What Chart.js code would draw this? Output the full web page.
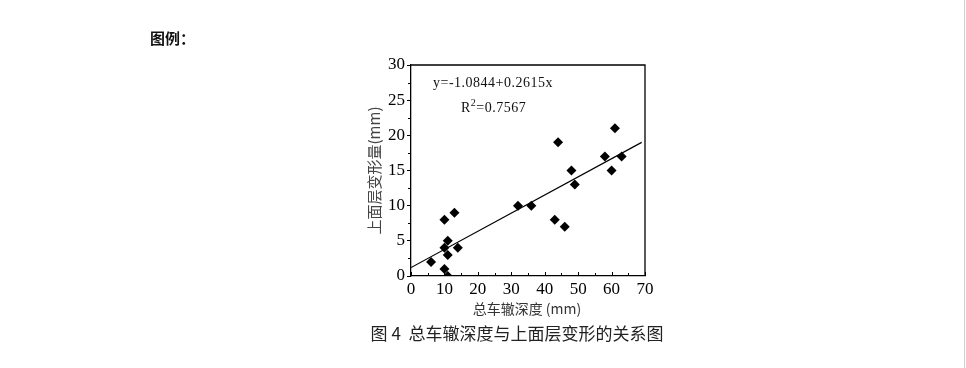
<!DOCTYPE html>
<html>
<head>
<meta charset="utf-8">
<script src="https://cdn.jsdelivr.net/npm/chart.js@4.4.1/dist/chart.umd.min.js"></script>
<style>
html,body{margin:0;padding:0;background:#fff;}
#wrap{position:relative;width:966px;height:368px;}
canvas{display:block;}
</style>
</head>
<body>
<div id="wrap"><canvas id="c" width="966" height="368"></canvas></div>
<script>
// Data
const rutDepth = [6, 10, 10, 10, 11, 11, 11, 13, 14, 32, 36, 43, 44, 46, 48, 49, 58, 60, 61, 63];
const upperDeform = [2, 8, 4, 1, 5, 3, 0, 9, 4, 10, 10, 8, 19, 7, 15, 13, 17, 15, 21, 17];
const fitLineX = [0, 69];
const fitLineY = [1.2, 19];
const xTicks = [0, 10, 20, 30, 40, 50, 60, 70];
const yTicks = [0, 5, 10, 15, 20, 25, 30];
const equationText = 'y=-1.0844+0.2615x';
const r2Text = '0.7567';
const xTitle = '总车辙深度 (mm)';
const yTitle = '上面层变形量(mm)';
const caption = '图 4  总车辙深度与上面层变形的关系图';
const legendLabel = '图例：';

const scatterPts = rutDepth.map((x, i) => ({x: x, y: upperDeform[i]}));
const linePts = fitLineX.map((x, i) => ({x: x, y: fitLineY[i]}));

const CJK = '"Noto Sans CJK SC", sans-serif';
const SERIF = '"Liberation Serif", "Times New Roman", serif';

const decor = {
  id: 'decor',
  afterDraw(chart) {
    const ctx = chart.ctx;
    const a = chart.chartArea;
    const xs = chart.scales.x, ys = chart.scales.y;
    ctx.save();
    // frame top/right
    ctx.strokeStyle = '#000';
    ctx.lineWidth = 1.3;
    ctx.beginPath();
    ctx.moveTo(a.left, a.top);
    ctx.lineTo(a.right, a.top);
    ctx.lineTo(a.right, a.bottom);
    ctx.stroke();
    // x ticks inward (major every 10, minor at 5)
    ctx.lineWidth = 1;
    for (let v = xs.min; v <= xs.max; v += 5) {
      const px = Math.round(xs.getPixelForValue(v)) + 0.5;
      const len = (v % 10 === 0) ? 4 : 3;
      ctx.beginPath();
      ctx.moveTo(px, a.bottom);
      ctx.lineTo(px, a.bottom - len);
      ctx.stroke();
    }
    // y minor ticks outward
    for (let v = ys.min + 2.5; v < ys.max; v += 5) {
      const py = Math.round(ys.getPixelForValue(v)) + 0.5;
      ctx.beginPath();
      ctx.moveTo(a.left, py);
      ctx.lineTo(a.left - 3, py);
      ctx.stroke();
    }
    // annotations
    ctx.fillStyle = '#111';
    ctx.textBaseline = 'middle';
    ctx.textAlign = 'left';
    ctx.font = '14px ' + SERIF;
    ctx.letterSpacing = '0.5px';
    ctx.fillText(equationText, a.left + 22, a.top + 18);
    ctx.fillText('R', a.left + 50, a.top + 43);
    const rw = ctx.measureText('R').width;
    ctx.font = '10px ' + SERIF;
    ctx.fillText('2', a.left + 50 + rw, a.top + 38);
    const sw = ctx.measureText('2').width;
    ctx.font = '14px ' + SERIF;
    ctx.fillText('=' + r2Text, a.left + 50 + rw + sw, a.top + 43);
    ctx.letterSpacing = '0px';
    // axis titles
    ctx.fillStyle = '#333';
    ctx.textAlign = 'center';
    ctx.font = '14px ' + CJK;
    ctx.fillText(xTitle, 527, 309);
    ctx.save();
    ctx.translate(374, (a.top + a.bottom) / 2);
    ctx.rotate(-Math.PI / 2);
    ctx.font = '15px ' + CJK;
    ctx.fillStyle = '#444';
    ctx.fillText(yTitle, 0, 0);
    ctx.restore();
    // caption
    ctx.fillStyle = '#222';
    ctx.font = '17px ' + CJK;
    ctx.fillText(caption, 517, 334);
    // legend label
    ctx.textAlign = 'left';
    ctx.fillStyle = '#111';
    ctx.font = 'bold 15px ' + CJK;
    ctx.fillText(legendLabel, 150, 38);
    // right page edge
    ctx.strokeStyle = '#cfcfcf';
    ctx.lineWidth = 1;
    ctx.beginPath();
    ctx.moveTo(964.5, 0);
    ctx.lineTo(964.5, 368);
    ctx.stroke();
    ctx.restore();
  }
};

new Chart(document.getElementById('c'), {
  type: 'scatter',
  data: {
    datasets: [
      {
        type: 'scatter',
        data: scatterPts,
        pointStyle: 'rectRot',
        pointRadius: 5,
        backgroundColor: '#000',
        borderColor: '#000',
        borderWidth: 0,
        order: 1
      },
      {
        type: 'line',
        data: linePts,
        borderColor: '#000',
        borderWidth: 1.2,
        pointRadius: 0,
        fill: false,
        order: 2
      }
    ]
  },
  options: {
    responsive: false,
    animation: false,
    events: [],
    layout: { padding: { left: 0, top: 65, right: 321, bottom: 72 } },
    plugins: { legend: { display: false }, tooltip: { enabled: false } },
    scales: {
      x: {
        type: 'linear',
        min: 0, max: 70,
        afterBuildTicks(scale) { scale.ticks = xTicks.map(v => ({value: v})); },
        afterFit(scale) { scale.height = 20; scale.paddingLeft = 0; scale.paddingRight = 0; },
        ticks: { padding: 3, color: '#000', font: { family: SERIF, size: 17 }, maxRotation: 0, autoSkip: false },
        grid: { display: true, drawOnChartArea: false, drawTicks: false },
        border: { display: true, color: '#000', width: 1.3 }
      },
      y: {
        type: 'linear',
        min: 0, max: 30,
        afterBuildTicks(scale) { scale.ticks = yTicks.map(v => ({value: v})); },
        afterFit(scale) { scale.width = 411; scale.paddingTop = 0; scale.paddingBottom = 0; },
        ticks: { padding: 2, color: '#000', font: { family: SERIF, size: 17 }, autoSkip: false },
        grid: { display: true, drawOnChartArea: false, drawTicks: true, tickLength: 4, tickColor: '#000', tickWidth: 1 },
        border: { display: true, color: '#000', width: 1.3 }
      }
    }
  },
  plugins: [decor]
});
</script>
</body>
</html>
